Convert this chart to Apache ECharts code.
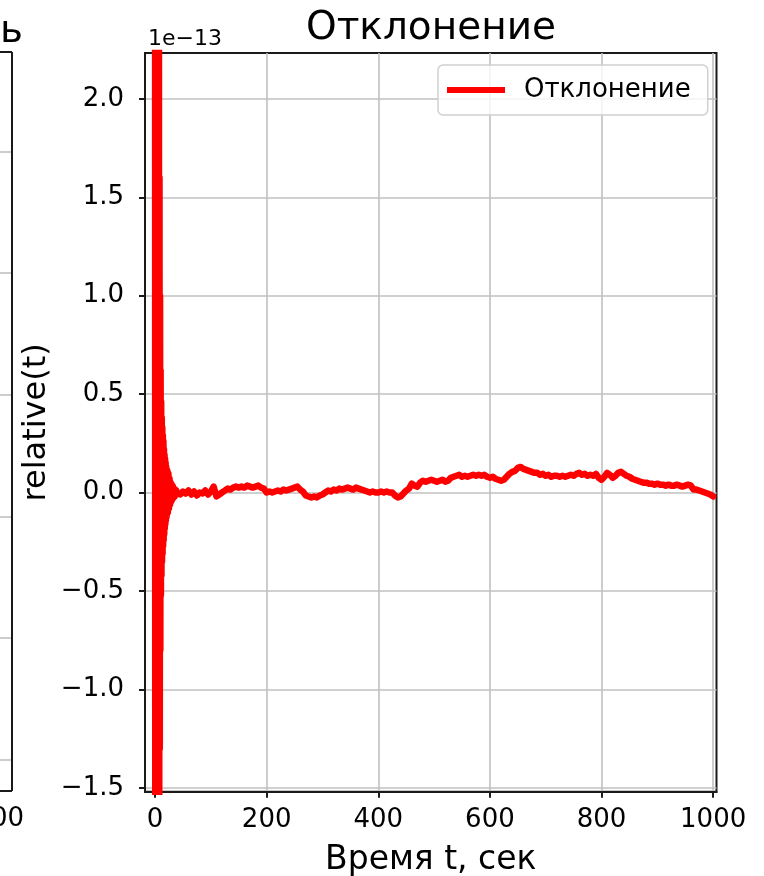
<!DOCTYPE html>
<html><head><meta charset="utf-8">
<script src="https://cdn.jsdelivr.net/npm/echarts@6/dist/echarts.min.js"></script>
<style>html,body{margin:0;padding:0;background:#fff}#c{width:764px;height:876px}</style>
</head><body><div id="c"></div>
<script>
const chartTitle = 'Отклонение';
const seriesName = 'Отклонение';
const xName = 'Время t, сек';
const yName = 'relative(t)';
const offsetText = '1e\u221213';
// early oscillation (values in units of 1e-13)
const oscT = [0,0.5,1,1.5,2,2.5,3,3.5,4,4.5,5,5.5,6,6.5,7,7.5,8,8.5,9,9.5,10,10.5,11,11.5,12,12.5,13,13.5,14,14.5,15,15.5,16,16.5,17,17.5,18,18.5,19,19.5,20,21,22,23,24,25,26,27,28,29,30,31,32,33,34,35,36,37,38,39];
const oscV = [3.2,-3.2,3.1,-3.1,3.0,-3.0,2.9,-2.9,2.8,-2.8,2.7,-2.6,2.6,-2.5,2.4,-2.0,1.6,-1.3,1.0,-0.8,0.62,-0.52,0.46,-0.42,0.38,-0.35,0.33,-0.31,0.29,-0.27,0.26,-0.24,0.22,-0.21,0.19,-0.18,0.17,-0.16,0.15,-0.14,0.13,-0.12,0.11,-0.10,0.095,-0.08,0.07,-0.06,0.05,-0.045,0.04,-0.035,0.03,-0.025,0.02,-0.02,0.015,-0.01,0.01,-0.005];
// slow drift, sampled every 5 s from t = 40 s
const mainStart = 40, mainStep = 5;
const mainV = [
 0.0,-0.01,0.005,-0.005,0.01,-0.01,0.005,-0.015,0.0,-0.005,0.01,-0.01,0.005,0.03,-0.02,-0.01,0.0,0.01,0.02,0.015,
 0.025,0.03,0.025,0.03,0.025,0.035,0.03,0.025,0.03,0.035,0.025,0.02,0.0,0.005,0.0,0.005,0.01,0.005,0.015,0.01,
 0.015,0.02,0.025,0.03,0.015,0.005,-0.015,-0.02,-0.025,-0.02,-0.025,-0.015,-0.01,0.0,0.01,0.005,0.015,0.01,0.02,0.015,
 0.02,0.025,0.02,0.015,0.025,0.02,0.015,0.01,0.005,0.0,0.005,0.0,0.0,0.005,0.0,0.005,0.0,0.0,-0.015,-0.025,
 -0.02,-0.005,0.01,0.02,0.045,0.035,0.03,0.05,0.06,0.055,0.06,0.065,0.06,0.055,0.06,0.065,0.055,0.06,0.075,0.08,
 0.085,0.09,0.08,0.085,0.08,0.085,0.09,0.085,0.09,0.085,0.09,0.08,0.075,0.08,0.07,0.065,0.06,0.065,0.08,0.095,
 0.105,0.11,0.125,0.13,0.12,0.115,0.11,0.105,0.1,0.1,0.09,0.095,0.085,0.09,0.08,0.085,0.085,0.08,0.085,0.08,
 0.085,0.09,0.085,0.095,0.1,0.09,0.095,0.085,0.09,0.085,0.095,0.075,0.065,0.08,0.1,0.09,0.075,0.085,0.1,0.105,
 0.095,0.085,0.08,0.07,0.065,0.06,0.055,0.05,0.05,0.045,0.045,0.04,0.045,0.04,0.04,0.035,0.04,0.035,0.035,0.04,
 0.035,0.03,0.035,0.04,0.035,0.015,0.015,0.01,0.005,0.0,-0.005,-0.01,-0.02
];
const xTicks = [0,200,400,600,800,1000];
const yTicks = [-1.5,-1.0,-0.5,0.0,0.5,1.0,1.5,2.0];
// neighbouring (cut-off) subplot remnants
const leftTitleTail = 'ь';
const leftXTickLabel = '1000';

const FONT = 'DejaVu Sans';
const data = oscT.map((t,i)=>[t,oscV[i]]).concat(mainV.map((v,i)=>[mainStart+mainStep*i, v]));
const fmtY = v => { const s = (Math.round(v*10)/10).toFixed(1); return s.replace('-', '\u2212'); };
const fmtX = v => String(Math.round(v));

const chart = echarts.init(document.getElementById('c'), null, {renderer:'canvas'});
const gridLineColor = '#c0c0c0';
const spineColor = '#1a1a1a';
const leftGridYs = [152,273,395,517,638,760];
const graphics = [
  {type:'text', left:148, top:28, style:{text:offsetText, font:'22px "DejaVu Sans"', fill:'#000'}},
  {type:'text', x:0, y:12, style:{text:leftTitleTail, font:'39px "DejaVu Sans"', fill:'#000'}},
  {type:'text', x:-9, y:806, style:{text:leftXTickLabel, font:'26px "DejaVu Sans"', fill:'#000', align:'center'}},
  {type:'line', shape:{x1:12,y1:52,x2:12,y2:791}, style:{stroke:spineColor, lineWidth:2}},
  {type:'line', shape:{x1:0,y1:52,x2:12,y2:52}, style:{stroke:spineColor, lineWidth:2}},
  {type:'line', shape:{x1:0,y1:791,x2:12,y2:791}, style:{stroke:spineColor, lineWidth:2}}
].concat(leftGridYs.map(y=>({type:'line', z:-1, shape:{x1:0,y1:y,x2:11,y2:y}, style:{stroke:gridLineColor, lineWidth:1.6}})));

chart.setOption({
  animation:false,
  backgroundColor:'#fff',
  title:{text:chartTitle, left:426, top:4, textAlign:'center',
    textStyle:{fontFamily:FONT, fontSize:39, fontWeight:'normal', color:'#000'}},
  legend:{data:[seriesName], left:438, top:65, orient:'vertical',
    padding:[12,17,12,9], itemWidth:58, itemHeight:6,
    backgroundColor:'rgba(255,255,255,0.8)', borderColor:'#d0d0d0', borderWidth:1.5, borderRadius:5,
    textStyle:{fontFamily:FONT, fontSize:26, color:'#000', padding:[0,0,0,14]},
    itemStyle:{color:'#ff0000'}, lineStyle:{width:6, color:'#ff0000'}, icon:'rect'},
  grid:{left:145, top:53, width:571.5, height:738.7, show:true, borderColor:spineColor, borderWidth:2,
    backgroundColor:'transparent', containLabel:false, outerBoundsMode:'none'},
  xAxis:{type:'value', min:-18, max:1006,
    name:xName, nameLocation:'middle', nameGap:52, nameMoveOverlap:false,
    nameTextStyle:{fontFamily:FONT, fontSize:33, color:'#000'},
    axisLine:{show:true, onZero:false, lineStyle:{color:spineColor, width:2}},
    axisTick:{show:true, length:6, lineStyle:{color:spineColor, width:2}, customValues:xTicks},
    axisLabel:{customValues:xTicks, formatter:fmtX, fontFamily:FONT, fontSize:26, color:'#000', margin:16},
    splitLine:{show:true, lineStyle:{color:gridLineColor, width:1.6}}},
  yAxis:{type:'value', min:-1.52, max:2.233,
    name:yName, nameLocation:'middle', nameGap:92, nameRotate:90, nameMoveOverlap:false,
    nameTextStyle:{fontFamily:FONT, fontSize:32, color:'#000'},
    axisLine:{show:true, onZero:false, lineStyle:{color:spineColor, width:2}},
    axisTick:{show:true, length:6, lineStyle:{color:spineColor, width:2}, customValues:yTicks},
    axisLabel:{customValues:yTicks, formatter:fmtY, fontFamily:FONT, fontSize:26, color:'#000', margin:21},
    splitLine:{show:true, lineStyle:{color:gridLineColor, width:1.6}}},
  series:[{type:'line', name:seriesName, data:data, showSymbol:false, symbol:'none',
    lineStyle:{color:'#ff0000', width:6.5, join:'round', cap:'round'}, itemStyle:{color:'#ff0000'},
    clip:true, sampling:null, z:3}],
  graphic:graphics
});
</script></body></html>
